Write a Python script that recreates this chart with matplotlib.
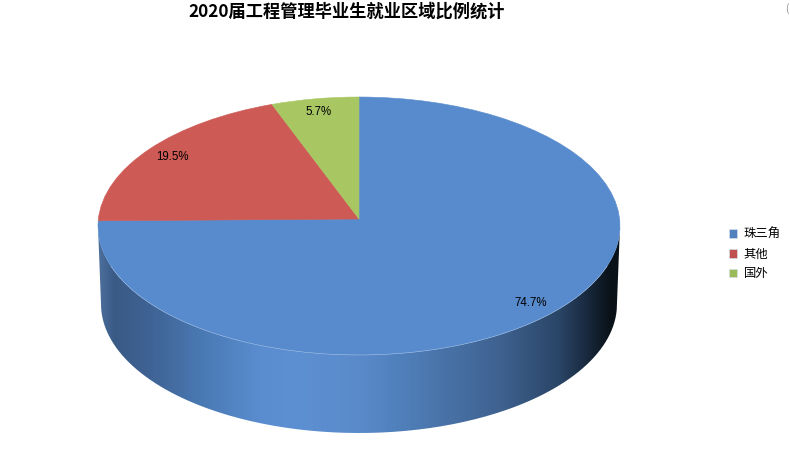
import numpy as np
import matplotlib
matplotlib.use("Agg")
import matplotlib.pyplot as plt
from matplotlib.patches import PathPatch, Patch
from matplotlib.path import Path
from matplotlib.colors import LinearSegmentedColormap

plt.rcParams['font.family'] = ['Noto Sans CJK SC', 'DejaVu Sans']

categories = ["珠三角", "其他", "国外"]
values = [74.7, 19.5, 5.7]
title = "2020届工程管理毕业生就业区域比例统计"

top_colors = ["#588BCD", "#CD5A55", "#A8C763"]
legend_colors = ["#4F81BD", "#C0504D", "#9BBB59"]

# tilted pie, pixel geometry
cx, cy = 359, 226   # centre of the outline ellipse
rx, ry = 261, 129
depth = 78
rx_bottom = 258
# perspective: the pie's centre lands 7 px above the ellipse centre
k, a, b, c = 0.0543, 260.6, 128.6, 7

fig = plt.figure(figsize=(7.9, 4.66), dpi=100)
ax = fig.add_axes([0, 0, 1, 1])

# take the wedge shapes from pie, then project them
wedges, _ = ax.pie(values, startangle=90, counterclock=False, radius=1)
shapes = []
for w in wedges:
    p = w.get_path()
    v = p.vertices
    w_div = 1 + k * v[:, 1]
    x = cx + a * v[:, 0] / w_div
    y = cy - (b * v[:, 1] / w_div + c)
    shapes.append(Path(np.column_stack([x, y]), p.codes))
    w.remove()

ax.set_aspect("auto")
ax.axis("off")

# side wall with the horizontal shading
t = np.linspace(np.pi, 2 * np.pi, 200)
upper = np.column_stack([cx + rx * np.cos(t), cy - ry * np.sin(t)])
lower = np.column_stack([cx + rx_bottom * np.cos(t), cy + depth - ry * np.sin(t)])
wall = Path(np.vstack([upper, lower[::-1], upper[:1]]))

stops = [(0.0, "#4C6F9C"), (0.03, "#3A5A86"), (0.10, "#3F6394"), (0.20, "#4A7AB4"),
         (0.31, "#5A8DD0"), (0.38, "#5D90D2"), (0.50, "#5A8ACA"), (0.577, "#5080BB"),
         (0.769, "#3F6290"), (0.883, "#2A4566"), (0.93, "#1B2D44"), (0.98, "#0A1219"),
         (1.0, "#0A1219")]
cmap = LinearSegmentedColormap.from_list("wall", stops)
img = ax.imshow(np.linspace(0, 1, 512).reshape(1, -1), cmap=cmap, aspect="auto",
                extent=(98, 621, 440, 200), zorder=1)
ax.set_xlim(0, 790)
ax.set_ylim(466, 0)
wall_patch = PathPatch(wall, facecolor="none", edgecolor="none", zorder=1)
ax.add_patch(wall_patch)
img.set_clip_path(wall_patch)

for shape, col in zip(shapes, top_colors):
    ax.add_patch(PathPatch(shape, facecolor=col, edgecolor=col, linewidth=0.4, zorder=2))

# pale hairline along the front rim
front = t[20:180]
ax.plot(cx + rx * np.cos(front), cy - ry * np.sin(front), color="#A9C5E8", lw=0.4, alpha=0.8, zorder=2.5)

label_pos = [(531, 303), (172, 157), (319, 112)]
for val, (lx, ly) in zip(values, label_pos):
    ax.text(lx, ly, f"{val}%", ha="center", va="center", fontsize=8.3,
            family="Liberation Sans", color="black", zorder=3)

ax.text(347, 12, title, ha="center", va="center", fontsize=12.4, fontweight="bold", color="black")
ax.text(787, 9, "(", ha="center", va="center", fontsize=7, color="#888888")

handles = [Patch(facecolor=col, edgecolor="#D5DEEA", linewidth=0.5) for col in legend_colors]
ax.legend(handles, categories, loc="center left", bbox_to_anchor=(725 / 790, 1 - 254 / 466),
          bbox_transform=fig.transFigure, frameon=False, fontsize=8.9,
          handlelength=0.7, handleheight=0.7, handletextpad=0.5,
          labelspacing=0.55, borderpad=0.3, borderaxespad=0)

fig.savefig("out.png", dpi=100)
